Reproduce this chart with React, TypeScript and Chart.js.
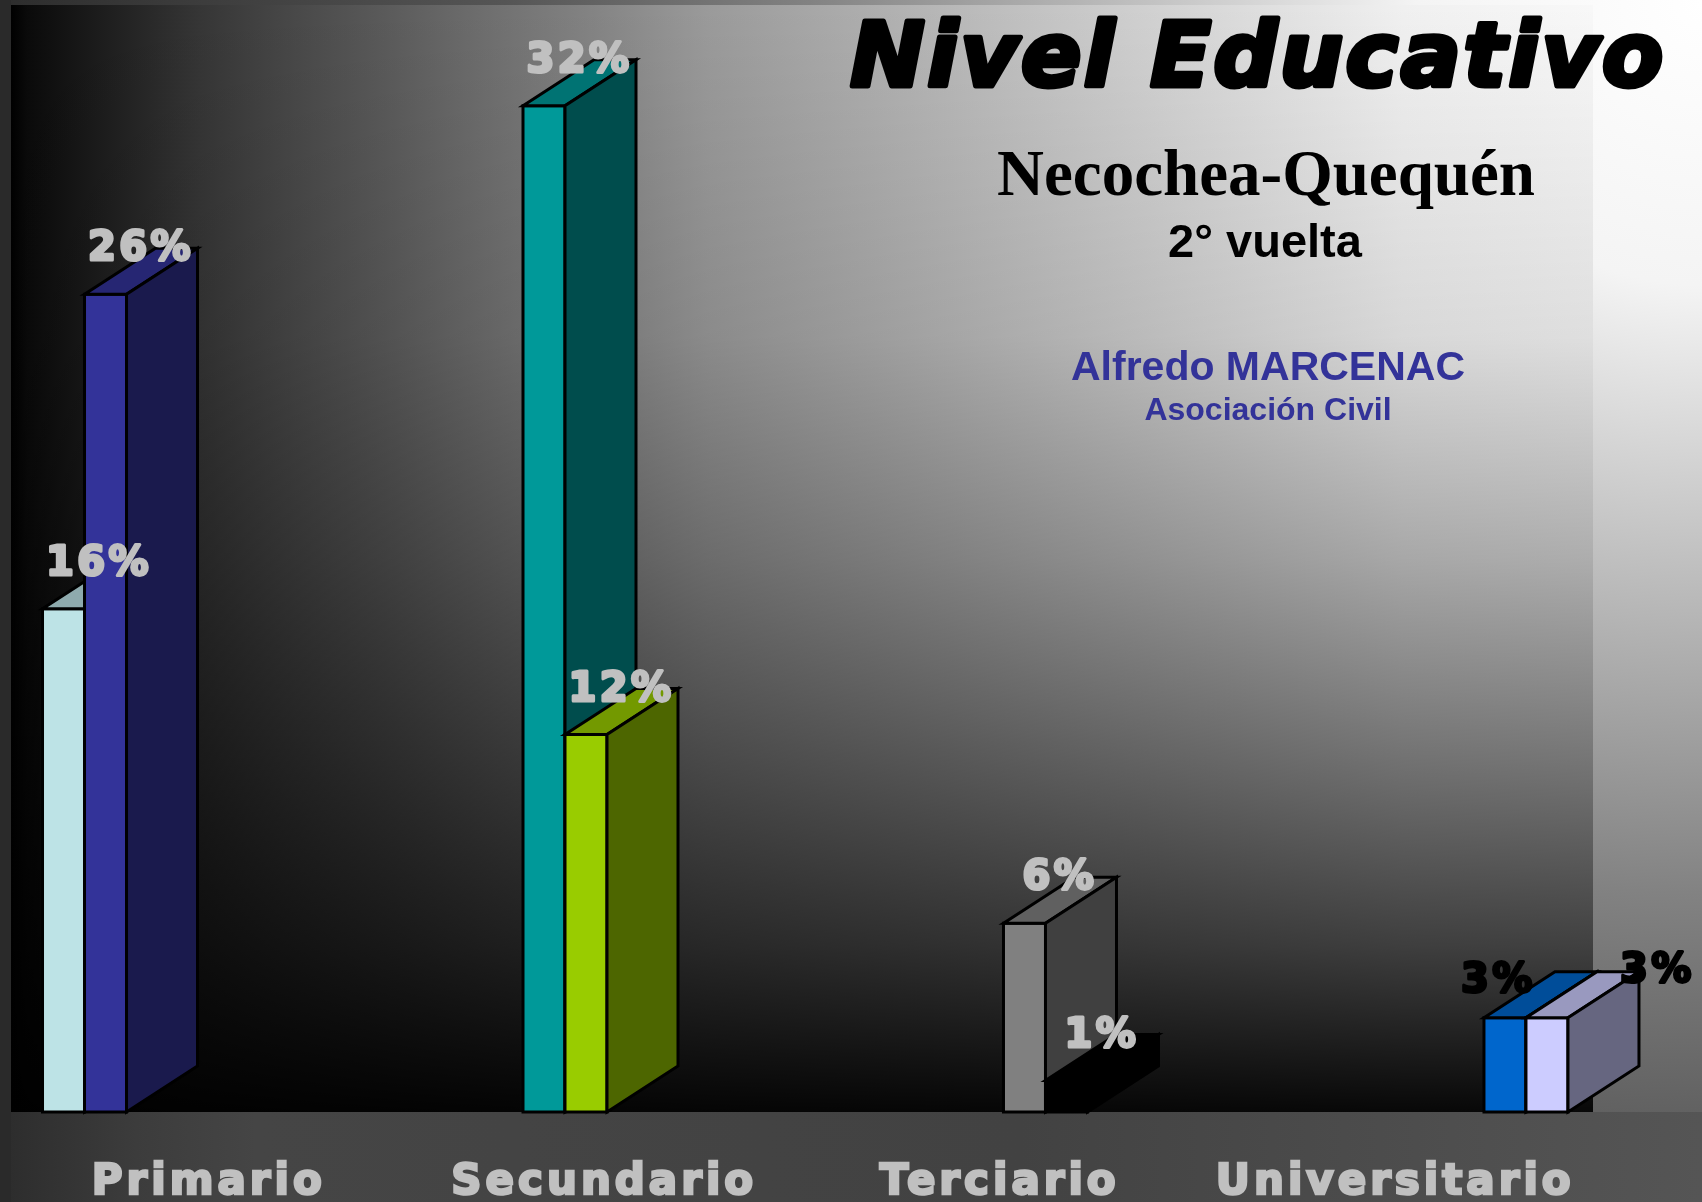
import React, { useEffect, useRef } from 'react';
import { Chart, registerables } from 'chart.js';

Chart.register(...registerables);

// ---------- data ----------
const categories = ['Primario', 'Secundario', 'Terciario', 'Universitario'];
const categoryPositions = [0, 1, 2, 3];
const seriesLeft = [16, 32, 6, 3];
const seriesRight = [26, 12, 1, 3];
const colorsLeft = ['#BDE3E6', '#009999', '#808080', '#0066CC'];
const colorsRight = ['#333399', '#99CC00', '#000000', '#CCCCFF'];

const titleText = 'Nivel Educativo';
const subtitleText = 'Necochea-Quequén';
const roundText = '2° vuelta';
const authorText = 'Alfredo MARCENAC';
const orgText = 'Asociación Civil';

// ---------- layout / style ----------
const W = 1702;
const H = 1202;
const DX = 71; // 3D depth, horizontal
const DY = 46; // 3D depth, vertical

function shade(hex: string, f: number): string {
  const n = parseInt(hex.slice(1), 16);
  const r = Math.round(((n >> 16) & 255) * f);
  const g = Math.round(((n >> 8) & 255) * f);
  const b = Math.round((n & 255) * f);
  return `rgb(${r},${g},${b})`;
}

const backgroundPlugin = {
  id: 'slideBackground',
  beforeDraw(chart: any) {
    const ctx: CanvasRenderingContext2D = chart.ctx;
    const ca = chart.chartArea;
    ctx.save();
    (ctx as any).letterSpacing = '0px';
    // slide background
    const rg = ctx.createRadialGradient(W, 0, 0, W, 0, 1900);
    rg.addColorStop(0, '#ffffff');
    rg.addColorStop(0.15, '#f4f4f4');
    rg.addColorStop(0.47, '#828282');
    rg.addColorStop(0.63, '#555555');
    rg.addColorStop(0.9, '#2c2c2c');
    rg.addColorStop(1, '#2a2a2a');
    ctx.fillStyle = rg;
    ctx.fillRect(0, 0, W, H);
    // band under the plot
    const bg = ctx.createLinearGradient(0, 0, W, 0);
    bg.addColorStop(0, '#2c2c2c');
    bg.addColorStop(0.08, '#3c3c3c');
    bg.addColorStop(0.15, '#454545');
    bg.addColorStop(0.6, '#424242');
    bg.addColorStop(1, '#555555');
    ctx.fillStyle = bg;
    ctx.fillRect(0, ca.bottom, W, H - ca.bottom);
    ctx.fillStyle = '#2a2a2a';
    ctx.fillRect(0, 0, ca.left, H);
    // plot area
    const hg = ctx.createLinearGradient(ca.left, 0, ca.right, 0);
    hg.addColorStop(0, '#000000');
    hg.addColorStop(0.01, '#0a0a0a');
    hg.addColorStop(0.12, '#363636');
    hg.addColorStop(0.44, '#9a9a9a');
    hg.addColorStop(0.88, '#f0f0f0');
    hg.addColorStop(1, '#f8f8f8');
    ctx.fillStyle = hg;
    ctx.fillRect(ca.left, ca.top, ca.right - ca.left, ca.bottom - ca.top);
    const vg = ctx.createLinearGradient(0, ca.top, 0, ca.bottom);
    vg.addColorStop(0, 'rgba(0,0,0,0)');
    vg.addColorStop(0.3, 'rgba(0,0,0,0.1)');
    vg.addColorStop(0.5, 'rgba(0,0,0,0.3)');
    vg.addColorStop(0.7, 'rgba(0,0,0,0.55)');
    vg.addColorStop(0.85, 'rgba(0,0,0,0.74)');
    vg.addColorStop(1, 'rgba(0,0,0,0.97)');
    ctx.fillStyle = vg;
    ctx.fillRect(ca.left, ca.top, ca.right - ca.left, ca.bottom - ca.top);
    ctx.restore();
    // wide lettering for category tick labels
    (ctx as any).letterSpacing = '4px';
  },
};

const LABEL_SHIFT: Record<string, [number, number]> = {
  '0-3': [-42, 8],
  '1-3': [75, -2],
};

function heavyText(ctx: CanvasRenderingContext2D, text: string, x: number, y: number, color: string, stroke: number) {
  ctx.fillStyle = color;
  ctx.strokeStyle = color;
  ctx.lineWidth = stroke;
  ctx.lineJoin = 'round';
  ctx.strokeText(text, x, y);
  ctx.fillText(text, x, y);
}

const bars3dPlugin = {
  id: 'bars3d',
  afterDatasetsDraw(chart: any) {
    const ctx: CanvasRenderingContext2D = chart.ctx;
    ctx.save();
    (ctx as any).letterSpacing = '0px';
    ctx.lineWidth = 3;
    ctx.lineJoin = 'miter';
    ctx.strokeStyle = '#000000';
    const metas = [chart.getDatasetMeta(0), chart.getDatasetMeta(1)];
    const face = (pts: number[][], fill: string) => {
      ctx.beginPath();
      ctx.moveTo(pts[0][0], pts[0][1]);
      for (let k = 1; k < pts.length; k++) ctx.lineTo(pts[k][0], pts[k][1]);
      ctx.closePath();
      ctx.fillStyle = fill;
      ctx.fill();
      ctx.stroke();
    };
    for (let i = 0; i < categories.length; i++) {
      metas.forEach((meta, d) => {
        const el = meta.data[i];
        if (!el) return;
        const { x, y, base, width } = el.getProps(['x', 'y', 'base', 'width'], true);
        const col = chart.data.datasets[d].backgroundColor[i];
        const l = x - width / 2;
        const r = x + width / 2;
        face([[l, y], [r, y], [r, base], [l, base]], col);
        face([[l, y], [r, y], [r + DX, y - DY], [l + DX, y - DY]], shade(col, 0.75));
        face([[r, y], [r + DX, y - DY], [r + DX, base - DY], [r, base]], shade(col, 0.5));
      });
    }
    // value labels
    (ctx as any).letterSpacing = '3.5px';
    ctx.font = "bold 40px 'DejaVu Sans'";
    ctx.textAlign = 'center';
    ctx.textBaseline = 'alphabetic';
    metas.forEach((meta, d) => {
      const values = chart.data.datasets[d].data;
      for (let i = 0; i < categories.length; i++) {
        const el = meta.data[i];
        if (!el) continue;
        const { x, y } = el.getProps(['x', 'y'], true);
        const shift = LABEL_SHIFT[`${d}-${i}`] || [0, 0];
        const v = values[i].y;
        heavyText(ctx, `${v}%`, x + DX / 2 + shift[0], y - DY - 3 + 15 + shift[1], i === 3 ? '#000000' : '#C0C0C0', 3);
      }
    });
    ctx.restore();
  },
  afterDraw(chart: any) {
    const ctx: CanvasRenderingContext2D = chart.ctx;
    ctx.save();
    ctx.textAlign = 'center';
    ctx.textBaseline = 'alphabetic';
    (ctx as any).letterSpacing = '2.5px';
    ctx.font = "italic bold 89px 'DejaVu Sans'";
    heavyText(ctx, titleText, 1258, 86, '#000000', 5);
    (ctx as any).letterSpacing = '0px';
    ctx.fillStyle = '#000000';
    ctx.font = "bold 65px 'Liberation Serif'";
    ctx.fillText(subtitleText, 1266, 195);
    ctx.font = "bold 47px 'Liberation Sans'";
    ctx.fillText(roundText, 1265, 257);
    ctx.fillStyle = '#333399';
    ctx.font = "bold 41px 'Liberation Sans'";
    ctx.fillText(authorText, 1268, 380);
    ctx.font = "bold 32px 'Liberation Sans'";
    ctx.fillText(orgText, 1268, 420);
    ctx.restore();
  },
};

export default function App() {
  const ref = useRef<HTMLCanvasElement | null>(null);
  useEffect(() => {
    const canvas = ref.current;
    if (!canvas) return;
    const chart = new Chart(canvas, {
      type: 'bar',
      data: {
        labels: categories,
        datasets: [
          {
            label: 'Serie 1',
            data: categoryPositions.map((p, i) => ({ x: p, y: seriesLeft[i] })),
            backgroundColor: colorsLeft,
            borderColor: '#000000',
            borderWidth: 2,
            barThickness: 42,
          },
          {
            label: 'Serie 2',
            data: categoryPositions.map((p, i) => ({ x: p, y: seriesRight[i] })),
            backgroundColor: colorsRight,
            borderColor: '#000000',
            borderWidth: 2,
            barThickness: 42,
          },
        ],
      } as any,
      options: {
        responsive: false,
        animation: false,
        devicePixelRatio: 1,
        layout: { padding: { left: 11, right: 109, top: 5, bottom: 0 } },
        plugins: {
          legend: { display: false },
          tooltip: { enabled: false },
          title: { display: false },
        },
        scales: {
          x: {
            type: 'linear',
            display: false,
            offset: false,
            grid: { offset: false },
            min: -0.153,
            max: 3.1395,
          },
          x2: {
            type: 'category',
            labels: categories,
            position: 'bottom',
            offset: true,
            grid: { display: false, drawTicks: false },
            border: { display: false },
            ticks: {
              color: '#C0C0C0',
              textStrokeColor: '#C0C0C0',
              textStrokeWidth: 2.5,
              font: { family: "'DejaVu Sans'", size: 42, weight: 'bold' },
              padding: 46,
              maxRotation: 0,
              minRotation: 0,
              autoSkip: false,
            },
            afterFit(scale: any) {
              scale.height = 90;
            },
          },
          y: {
            type: 'linear',
            display: false,
            min: 0,
            max: 35.2,
          },
        },
      } as any,
      plugins: [backgroundPlugin, bars3dPlugin],
    });
    return () => chart.destroy();
  }, []);
  return (
    <div style={{ position: 'fixed', left: 0, top: 0, width: W, height: H, overflow: 'hidden' }}>
      <canvas ref={ref} width={W} height={H} style={{ display: 'block', width: W, height: H }} />
    </div>
  );
}
